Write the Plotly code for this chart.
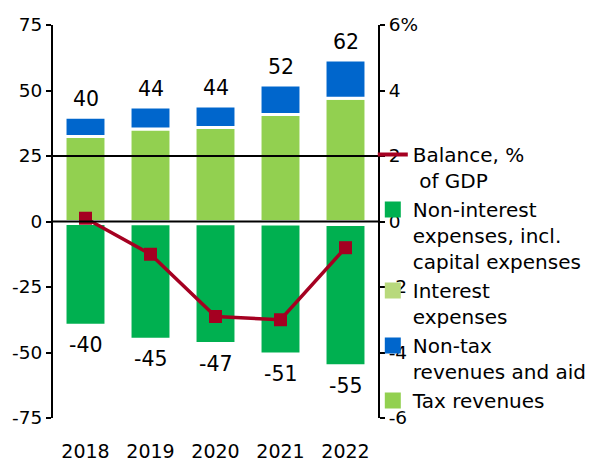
import plotly.graph_objs as go

years = ['2018', '2019', '2020', '2021', '2022']

# revenues, bn
tax_revenues = [32.4, 35.3, 35.9, 40.8, 47.0]
non_tax_revenues = [7.4, 8.4, 8.2, 11.3, 14.6]

# expenses, bn
interest_expenses = [-0.8, -0.9, -0.9, -1.0, -1.1]
non_interest_expenses = [-38.8, -44.0, -45.7, -49.6, -54.0]

# balance, % of GDP
balance = [0.1, -1.0, -2.9, -3.0, -0.8]

left_ticks = [-75, -50, -25, 0, 25, 50, 75]
right_ticks = [-6, -4, -2, 0, 2, 4, 6]
right_ticktext = ['-6', '-4', '-2', '0', '2', '4', '6%']

FONT = 'DejaVu Sans'
RED = '#a50021'

total_rev = [a + b for a, b in zip(tax_revenues, non_tax_revenues)]
total_exp = [a + b for a, b in zip(interest_expenses, non_interest_expenses)]

bar_line = dict(color='white', width=3)

def bar(vals, color):
    return go.Bar(x=years, y=vals, marker=dict(color=color, line=bar_line),
                  showlegend=False)

# legend entries drawn as big squares / thick line
def legend_item(name, color, rank, line=False):
    if line:
        return go.Scatter(x=years, y=[None] * len(years), yaxis='y2', mode='lines',
                          name=name, line=dict(color=color, width=4), legendrank=rank)
    return go.Scatter(x=years, y=[None] * len(years), mode='markers', name=name,
                      marker=dict(symbol='square', size=17, color=color),
                      legendrank=rank)

data = [
    bar(tax_revenues, '#92d050'),
    bar(non_tax_revenues, '#0066cc'),
    bar(interest_expenses, '#b8d97c'),
    bar(non_interest_expenses, '#00b050'),
    go.Scatter(x=years, y=balance, yaxis='y2', mode='lines+markers',
               line=dict(color=RED, width=3.5),
               marker=dict(symbol='square', size=13, color=RED),
               showlegend=False),
    legend_item('Balance, %<br>\u00a0of GDP', RED, 1, line=True),
    legend_item('Non-interest<br>expenses, incl.<br>capital expenses', '#00b050', 2),
    legend_item('Interest<br>expenses', '#b8d97c', 3),
    legend_item('Non-tax<br>revenues and aid', '#0066cc', 4),
    legend_item('Tax revenues', '#92d050', 5),
]

# totals above / below the bars (x as category index)
annotations = []
for i, v in enumerate(total_rev):
    annotations.append(dict(x=i, y=v, text=str(round(v)), showarrow=False,
                            yanchor='middle', yshift=18,
                            font=dict(size=20.5, family=FONT, color='black')))
for i, v in enumerate(total_exp):
    annotations.append(dict(x=i, y=v, text=str(round(v)), showarrow=False,
                            yanchor='middle', yshift=-20,
                            font=dict(size=20.5, family=FONT, color='black')))

# page body adds an 8px margin, so the figure is a bit smaller than the window
layout = go.Layout(
    width=587, height=453,
    margin=dict(l=45, r=217, t=17, b=43, autoexpand=False),
    paper_bgcolor='white', plot_bgcolor='white',
    font=dict(family=FONT, size=18.5, color='black'),
    barmode='relative', bargap=0.37,
    xaxis=dict(type='category', categoryorder='array', categoryarray=years,
               range=[-0.5, len(years) - 0.5],
               showline=False, ticks='', ticklabelstandoff=20,
               tickfont=dict(size=19), automargin=False),
    yaxis=dict(range=[-75, 75], tickvals=left_ticks,
               ticktext=[str(v) for v in left_ticks],
               showgrid=False, zeroline=False, showline=True, automargin=False,
               linecolor='black', linewidth=2, ticks='outside',
               ticklen=5, tickwidth=2, tickcolor='black'),
    yaxis2=dict(range=[-6, 6], tickvals=right_ticks, ticktext=right_ticktext,
                overlaying='y', side='right', anchor='x', automargin=False,
                showgrid=False, zeroline=False, showline=True,
                linecolor='black', linewidth=2, ticks='outside',
                ticklen=5, tickwidth=2, tickcolor='black'),
    legend=dict(x=0.984, xanchor='left', y=0.72, yanchor='top',
                bgcolor='rgba(0,0,0,0)', font=dict(size=20),
                valign='top', tracegroupgap=0, traceorder='normal'),
    annotations=annotations,
    shapes=[
        dict(type='line', xref='paper', yref='y', x0=0, x1=1, y0=0, y1=0,
             line=dict(color='black', width=2), layer='above'),
        dict(type='line', xref='paper', yref='y', x0=0, x1=1, y0=25, y1=25,
             line=dict(color='black', width=2), layer='above'),
    ],
)

fig = go.Figure(data=data, layout=layout)
fig.write_html("out.html")
